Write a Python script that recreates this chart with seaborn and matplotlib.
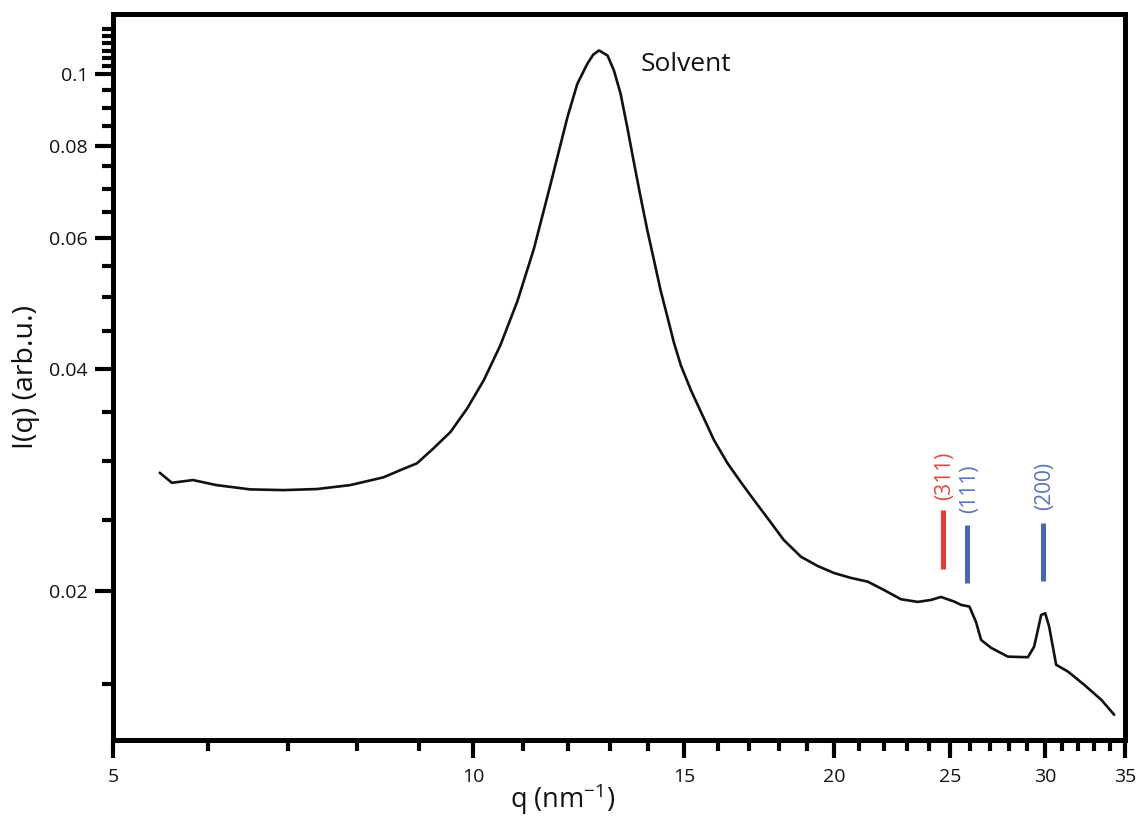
import matplotlib
matplotlib.use("Agg")
import matplotlib.pyplot as plt
import pandas as pd
import seaborn as sns
from matplotlib.ticker import FixedLocator, FixedFormatter, NullFormatter

# Scattering curve of the solvent
q_nm = [5.47, 5.60, 5.83, 6.10, 6.51, 6.94, 7.40, 7.89, 8.41, 8.69, 8.97, 9.26,
        9.57, 9.88, 10.20, 10.53, 10.88, 11.23, 11.60, 11.98, 12.21, 12.45,
        12.59, 12.73, 12.94, 13.10, 13.27, 13.44, 13.62, 13.79, 13.97, 14.15,
        14.33, 14.52, 14.70, 14.90, 15.19, 15.48, 15.88, 16.30, 16.72, 17.15,
        17.60, 18.16, 18.77, 19.38, 20.00, 20.66, 21.34, 22.02, 22.75, 23.50,
        24.11, 24.57, 25.20, 25.54, 25.95, 26.28, 26.54, 27.06, 27.94, 29.04,
        29.39, 29.79, 30.02, 30.25, 30.66, 31.36, 32.36, 33.44, 34.28]
intensity = [0.02893, 0.02804, 0.02828, 0.02784, 0.02747, 0.02741, 0.02750,
             0.02784, 0.02852, 0.02917, 0.02979, 0.03121, 0.03286, 0.03534,
             0.03858, 0.04300, 0.04930, 0.05800, 0.07108, 0.08742, 0.09698,
             0.1033, 0.1062, 0.1076, 0.1059, 0.1011, 0.0940, 0.08476, 0.07564,
             0.06819, 0.06148, 0.05601, 0.05103, 0.04696, 0.04340, 0.04040,
             0.0374, 0.03500, 0.03202, 0.02979, 0.02810, 0.02657, 0.02513,
             0.02347, 0.02228, 0.02165, 0.02118, 0.02086, 0.02062, 0.02009,
             0.01952, 0.01936, 0.01948, 0.01966, 0.01938, 0.01918, 0.01908,
             0.01819, 0.01720, 0.01678, 0.01633, 0.01630, 0.01685, 0.01859,
             0.01869, 0.01793, 0.01592, 0.01559, 0.01496, 0.01428, 0.01363]

# Bragg reflection markers
reflection_labels = ["(311)", "(111)", "(200)"]
reflection_q = [24.66, 25.84, 29.89]
reflection_low = [0.02143, 0.02052, 0.02068]
reflection_high = [0.02576, 0.02459, 0.02477]
reflection_colors = ["#E63B2E", "#4A66B0", "#4A66B0"]
reflection_text_colors = ["#E8473C", "#5A72B8", "#5A72B8"]
label_gap_pt = [7, 9, 9]

# Axis ticks
x_major = [5, 10, 15, 20, 25, 30, 35]
x_major_labels = ["5", "10", "15", "20", "25", "30", "35"]
x_minor = [v for v in range(6, 35) if v not in x_major]
y_major = [0.02, 0.04, 0.06, 0.08, 0.1]
y_major_labels = ["0.02", "0.04", "0.06", "0.08", "0.1"]
y_minor = [0.015, 0.025, 0.03, 0.035, 0.045, 0.05, 0.055, 0.065, 0.07, 0.075,
           0.085, 0.09, 0.095, 0.1025, 0.105, 0.1075, 0.11, 0.1125, 0.115]

sns.set_style("white")
plt.rcParams["font.family"] = ["Open Sans", "DejaVu Sans"]
plt.rcParams["mathtext.fontset"] = "custom"
plt.rcParams["mathtext.rm"] = "Open Sans"
plt.rcParams["mathtext.it"] = "Open Sans:italic"

fig = plt.figure(figsize=(11.36, 8.16), dpi=100)
ax = fig.add_axes([113 / 1136, 1 - 740 / 816, (1125 - 113) / 1136, (740 - 14) / 816])

df = pd.DataFrame({"q": q_nm, "I": intensity})
sns.lineplot(data=df, x="q", y="I", ax=ax, color="#111111", linewidth=1.9,
             sort=False, estimator=None)

ax.set_xscale("log")
ax.set_yscale("log")
ax.set_xlim(5, 35)
ax.set_ylim(0.0126, 0.1205)

for q, lo, hi, lab, c, tc, gap in zip(reflection_q, reflection_low,
                                      reflection_high, reflection_labels,
                                      reflection_colors, reflection_text_colors,
                                      label_gap_pt):
    ax.plot([q, q], [lo, hi], color=c, linewidth=3.6, solid_capstyle="butt")
    ax.annotate(lab, xy=(q, hi), xytext=(1.5, gap), textcoords="offset points",
                rotation=90, ha="center", va="bottom", color=tc, fontsize=15)

ax.text(13.79, 0.1008, "Solvent", fontsize=19, ha="left", va="baseline",
        color="#111111")

# Ticks
ax.xaxis.set_major_locator(FixedLocator(x_major))
ax.xaxis.set_major_formatter(FixedFormatter(x_major_labels))
ax.xaxis.set_minor_locator(FixedLocator(x_minor))
ax.xaxis.set_minor_formatter(NullFormatter())
ax.yaxis.set_major_locator(FixedLocator(y_major))
ax.yaxis.set_major_formatter(FixedFormatter(y_major_labels))
ax.yaxis.set_minor_locator(FixedLocator(y_minor))
ax.yaxis.set_minor_formatter(NullFormatter())

ax.tick_params(which="both", direction="out", color="black", width=3.0,
               left=True, bottom=True, top=False, right=False)
ax.tick_params(which="major", length=13, labelsize=14, labelcolor="#111111")
ax.tick_params(axis="x", which="major", pad=7)
ax.tick_params(axis="y", which="major", pad=5)
ax.tick_params(which="minor", length=8)

for side in ["left", "right", "top", "bottom"]:
    ax.spines[side].set_visible(True)
    ax.spines[side].set_color("black")
    ax.spines[side].set_linewidth(3.6)

ax.set_xlabel("q (nm$^{\\mathrm{-1}}$)", fontsize=19.5, color="#111111")
ax.set_ylabel("I(q) (arb.u.)", fontsize=20.5, color="#111111")
ax.xaxis.set_label_coords(0.444, -0.057)
ax.yaxis.set_label_coords(-0.072, 0.5)

fig.savefig("out.png", dpi=100, facecolor="white")
